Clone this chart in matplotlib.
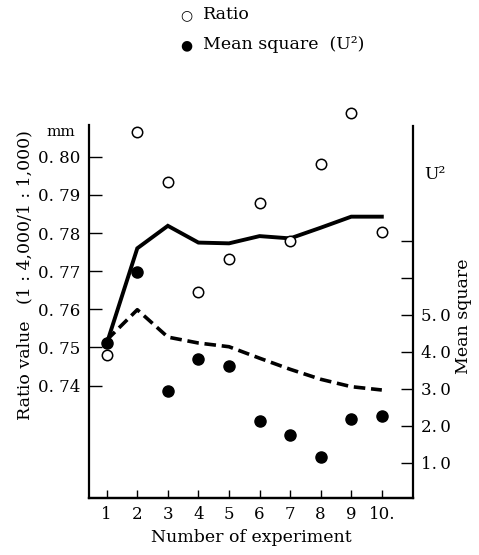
import matplotlib.pyplot as plt

plt.rcParams['font.family'] = ['DejaVu Serif']

experiments = [1, 2, 3, 4, 5, 6, 7, 8, 9, 10]
x_labels = ['1', '2', '3', '4', '5', '6', '7', '8', '9', '10.']

# ratio values (left axis, mm)
ratio = [0.7480, 0.8064, 0.7934, 0.7646, 0.7731, 0.7878, 0.7779, 0.7981, 0.8115, 0.7803]
ratio_line = [0.7510, 0.7760, 0.7819, 0.7775, 0.7773, 0.7792, 0.7786, 0.7814, 0.7843, 0.7843]

# mean square U^2 (right axis)
mean_sq = [4.24, 6.15, 2.95, 3.80, 3.62, 2.12, 1.76, 1.17, 2.18, 2.27]
mean_sq_line = [4.32, 5.14, 4.40, 4.24, 4.14, 3.83, 3.53, 3.26, 3.06, 2.97]

left_ticks = [0.74, 0.75, 0.76, 0.77, 0.78, 0.79, 0.80]
left_labels = ['0. 74', '0. 75', '0. 76', '0. 77', '0. 78', '0. 79', '0. 80']
right_ticks = [1, 2, 3, 4, 5, 6, 7]
right_labels = ['1.\u20090', '2.\u20090', '3.\u20090', '4.\u20090', '5.\u20090', '', '']

fig = plt.figure(figsize=(4.79, 5.55), dpi=100)
ax = fig.add_axes([0.1858, 0.1027, 0.6764, 0.7171])
ax2 = ax.twinx()

ax.set_xlim(0.42, 11.02)
ax.set_ylim(0.7105, 0.8149)
ax2.set_ylim(0.05, 10.81)

ax.plot(experiments, ratio_line, color='black', lw=2.8, solid_joinstyle='miter', zorder=2)
ax2.plot(experiments, mean_sq_line, color='black', lw=2.6, dashes=(3.2, 1.6), zorder=2)
ax.plot(experiments, ratio, 'o', ms=7.5, mfc='white', mec='black', mew=1.1,
        clip_on=False, zorder=3)
ax2.plot(experiments, mean_sq, 'o', ms=8, color='black', clip_on=False, zorder=3)

for a in (ax, ax2):
    a.spines['top'].set_visible(False)
    a.spines['left'].set_linewidth(1.6)
    a.spines['right'].set_linewidth(1.6)
    a.spines['bottom'].set_linewidth(1.6)
ax.spines['left'].set_bounds(0.7105, 0.8083)
ax2.spines['right'].set_bounds(0.05, 10.1)
ax2.spines['left'].set_visible(False)
ax.spines['right'].set_visible(False)

ax.set_xticks(experiments)
ax.set_xticklabels(x_labels, fontsize=12)
ax.set_yticks(left_ticks)
ax.set_yticklabels(left_labels, fontsize=12)
ax2.set_yticks(right_ticks)
ax2.set_yticklabels(right_labels, fontsize=12)
ax.tick_params(axis='both', direction='in', length=9, width=1.0)
ax.tick_params(axis='x', length=6, pad=6)
ax.tick_params(axis='y', pad=6)
ax2.tick_params(axis='y', direction='in', length=9, width=1.0, pad=6)

ax.set_xlabel('Number of experiment', fontsize=12.5, labelpad=4)

fig.text(0.052, 0.505, 'Ratio value   (1 : 4,000/1 : 1,000)', rotation=90,
         ha='center', va='center', fontsize=12.5)
fig.text(0.128, 0.762, 'mm', ha='center', va='center', fontsize=11)
fig.text(0.885, 0.685, 'U\u00b2', ha='left', va='center', fontsize=12.5)
fig.text(0.967, 0.43, 'Mean square', rotation=90, ha='center', va='center', fontsize=12.5)

fig.text(0.39, 0.973, '\u25cb', ha='center', va='center', fontsize=10)
fig.text(0.424, 0.973, 'Ratio', ha='left', va='center', fontsize=12.5)
fig.text(0.39, 0.919, '\u25cf', ha='center', va='center', fontsize=10)
fig.text(0.424, 0.919, 'Mean square  (U\u00b2)', ha='left', va='center', fontsize=12.5)

fig.savefig('out.png', dpi=100)
